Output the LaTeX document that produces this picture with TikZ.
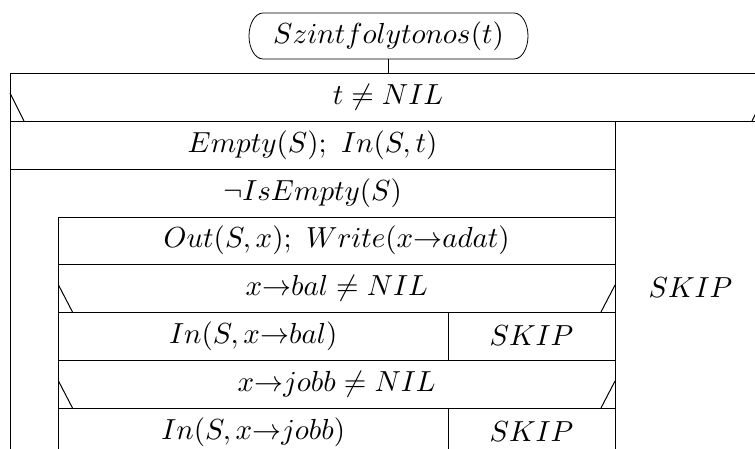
\documentclass[tikz,border=0pt]{standalone}
\usepackage{graphicx}
\usetikzlibrary{calc}
\tikzset{
  cell/.style={draw, line width=1pt, rectangle, inner sep=0pt, outer sep=0pt},
  txt/.style={inner sep=0pt},
  slash/.style={line width=1pt},
  titlebox/.style={inner sep=0pt, outer sep=0pt, minimum width=279pt, minimum height=46pt},
  outline/.style={line width=0.8pt}
}
\newcommand{\tx}[1]{\scalebox{2.9}{$#1$}}
\begin{document}
\begin{tikzpicture}[x=1pt,y=-1pt]
\useasboundingbox (0,0) rectangle (755,448);
\clip (0,0) rectangle (755,448);

% procedure header with oval ends
\node[titlebox] (title) at (388.5,36) {\tx{Szintfolytonos(t)}};
\draw[outline] ($(title.north west)+(14,0)$) -- ($(title.north east)+(-14,0)$)
  arc[start angle=-90, end angle=90, x radius=14, y radius=23]
  -- ($(title.south west)+(14,0)$)
  arc[start angle=90, end angle=270, x radius=14, y radius=23] -- cycle;

% outer selection: t != NIL
\node[cell, minimum width=756pt, minimum height=48pt] (cond0) at (388,97) {};
\node[txt] (cond0t) at (388,97) {\tx{t \neq NIL}};
\draw (title.south) -- (title.south |- cond0.north);
\draw[slash] ($(cond0.north west)+(0,20)$) -- ($(cond0.south west)+(14,0)$);
\draw[slash] ($(cond0.north east)+(0,20)$) -- ($(cond0.south east)+(-14,0)$);

% else branch
\node[cell, minimum width=151pt, minimum height=335pt] (skip0) at (690.5,288.5) {};
\node[txt] (skip0t) at (690.5,288) {\tx{SKIP}};

% then branch
\node[cell, minimum width=605pt, minimum height=48pt] (init) at (312.5,145) {};
\node[txt] (initt) at (312.5,145) {\tx{Empty(S);\ In(S,t)}};

% while loop
\node[cell, minimum width=605pt, minimum height=287pt] (loop) at (312.5,312.5) {};
\node[txt] (loopt) at (312.5,193) {\tx{\neg IsEmpty(S)}};

\node[cell, minimum width=556.5pt, minimum height=47pt] (out) at (336.75,240.5) {};
\node[txt] (outt) at (336.75,240.5) {\tx{Out(S,x);\ Write(x{\rightarrow}adat)}};

% left child
\node[cell, minimum width=556.5pt, minimum height=48pt] (cond1) at (336.75,288) {};
\node[txt] (cond1t) at (336.75,288) {\tx{x{\rightarrow}bal \neq NIL}};
\draw[slash] ($(cond1.north west)+(0,21)$) -- ($(cond1.south west)+(14,0)$);
\draw[slash] ($(cond1.north east)+(0,21)$) -- ($(cond1.south east)+(-14,0)$);
\node[cell, minimum width=389.5pt, minimum height=48pt] (inbal) at (253.25,336) {};
\node[txt] (inbalt) at (253.25,336) {\tx{In(S,x{\rightarrow}bal)}};
\node[cell, minimum width=167pt, minimum height=48pt] (skip1) at (531.5,336) {};
\node[txt] (skip1t) at (531.5,336) {\tx{SKIP}};

% right child
\node[cell, minimum width=556.5pt, minimum height=48pt] (cond2) at (336.75,384) {};
\node[txt] (cond2t) at (336.75,384) {\tx{x{\rightarrow}jobb \neq NIL}};
\draw[slash] ($(cond2.north west)+(0,21)$) -- ($(cond2.south west)+(14,0)$);
\draw[slash] ($(cond2.north east)+(0,21)$) -- ($(cond2.south east)+(-14,0)$);
\node[cell, minimum width=389.5pt, minimum height=48pt] (injobb) at (253.25,432) {};
\node[txt] (injobbt) at (253.25,432) {\tx{In(S,x{\rightarrow}jobb)}};
\node[cell, minimum width=167pt, minimum height=48pt] (skip2) at (531.5,432) {};
\node[txt] (skip2t) at (531.5,432) {\tx{SKIP}};
\end{tikzpicture}
\end{document}
